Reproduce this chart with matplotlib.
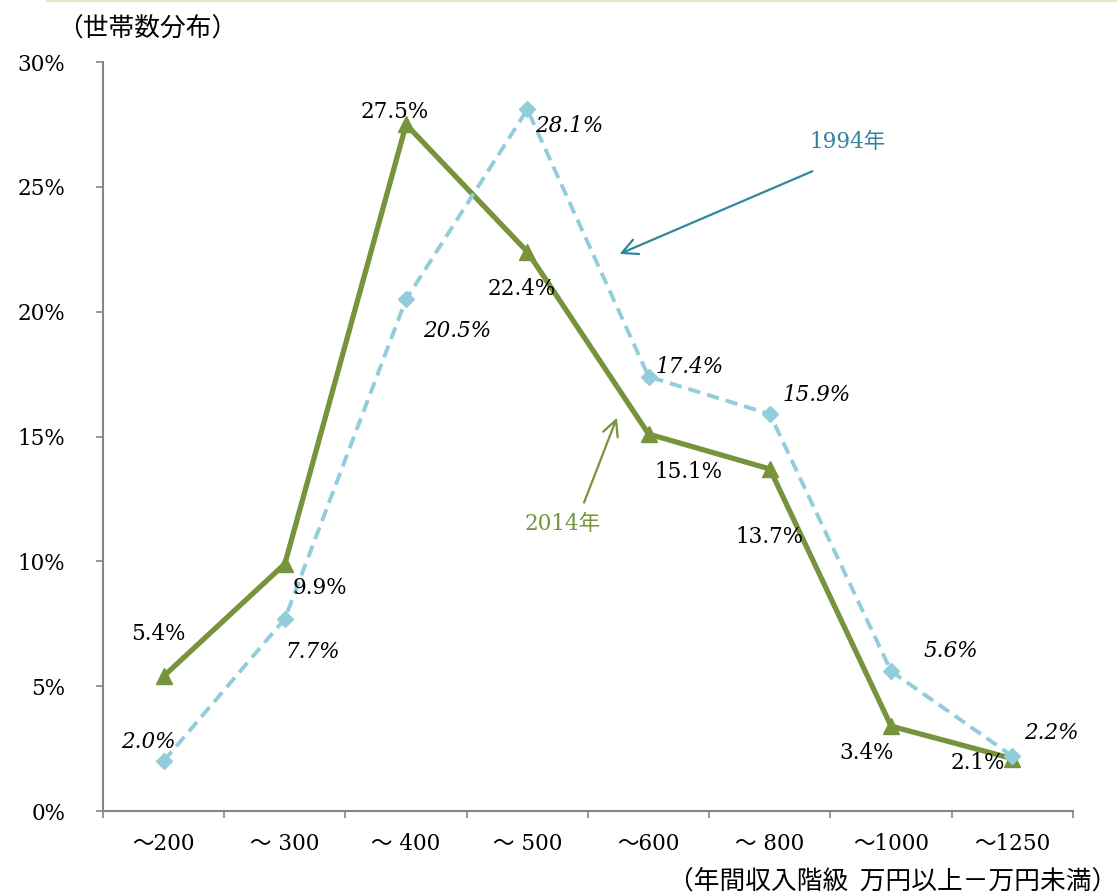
import numpy as np
import matplotlib
matplotlib.use("Agg")
import matplotlib.pyplot as plt
from matplotlib.lines import Line2D

################################
categories = ["～200", "～ 300", "～ 400", "～ 500", "～600", "～ 800", "～1000", "～1250"]
share_2014 = [5.4, 9.9, 27.5, 22.4, 15.1, 13.7, 3.4, 2.1]
share_1994 = [2.0, 7.7, 20.5, 28.1, 17.4, 15.9, 5.6, 2.2]
yticks = [0, 5, 10, 15, 20, 25, 30]
# label offsets from each point, in pixels
off_2014 = [(-5, 42), (35, -24), (-11, 12), (-6, -37), (40, -38), (0, -68), (-24, -27), (-35, -4)]
off_1994 = [(-15, 19), (28, -33), (51, -32), (42, -17), (41, 10), (47, 19), (60, 20), (39, 23)]
################################

GREEN = "#77933C"
BLUE = "#92CDDC"
TEAL = "#31859C"
GREY = "#868686"
NUM = ["DejaVu Serif", "Noto Sans CJK JP"]
JP = ["Noto Sans CJK JP", "DejaVu Sans"]

fig = plt.figure(figsize=(11.17, 8.94), dpi=100)
ax = fig.add_axes([0.0922, 0.0928, 0.9606 - 0.0922, 0.9306 - 0.0928])

x = np.arange(len(categories))
ax.plot(x, share_2014, color=GREEN, lw=3.8, marker="^", ms=11, zorder=3)
ax.plot(x, share_1994, color=BLUE, lw=2.8, dashes=(3.2, 1.8), marker="D", ms=8.5, zorder=4)

for xi, v, (dx, dy) in zip(x, share_2014, off_2014):
    ax.annotate(f"{v:.1f}%", (xi, v), xytext=(dx, dy), textcoords="offset pixels",
                ha="center", va="center", fontsize=15.5, family=NUM, zorder=5)
for xi, v, (dx, dy) in zip(x, share_1994, off_1994):
    ax.annotate(f"{v:.1f}%", (xi, v), xytext=(dx, dy), textcoords="offset pixels",
                ha="center", va="center", fontsize=15.5, family=NUM, style="italic", zorder=5)

# series callouts
ax.annotate("", xy=(3.739, 22.27), xytext=(5.372, 25.67),
            arrowprops=dict(arrowstyle="->", color=TEAL, lw=1.6, mutation_scale=28))
ax.text(5.644, 26.8, "1994年", color=TEAL, fontsize=15.5, family=NUM, ha="center", va="center")
ax.annotate("", xy=(3.747, 15.86), xytext=(3.459, 12.25),
            arrowprops=dict(arrowstyle="->", color=GREEN, lw=1.6, mutation_scale=28))
ax.text(3.294, 11.49, "2014年", color=GREEN, fontsize=15.5, family=NUM, ha="center", va="center")

ax.set_xlim(-0.5, len(categories) - 0.5)
ax.set_ylim(0, 30)
ax.set_yticks(yticks)
ax.set_yticklabels([f"{t}%" for t in yticks], family=NUM, fontsize=15.5)
ax.set_xticks(np.arange(len(categories) + 1) - 0.5)
ax.set_xticklabels([])
ax.set_xticks(x, minor=True)
ax.set_xticklabels(categories, minor=True, family=NUM, fontsize=15.5)
ax.tick_params(axis="y", direction="out", length=5, width=1.2, color=GREY, pad=22)
ax.tick_params(axis="x", which="major", direction="out", length=5, width=1.2, color=GREY)
ax.tick_params(axis="x", which="minor", length=0, pad=16)

for s in ["top", "right"]:
    ax.spines[s].set_visible(False)
for s in ["left", "bottom"]:
    ax.spines[s].set_color(GREY)
    ax.spines[s].set_linewidth(1.5)

fig.text(0.051, 0.967, "（世帯数分布）", family=JP, fontsize=18.5, ha="left", va="center")
fig.text(1.0, 0.0145, "（年間収入階級  万円以上－万円未満）", family=JP, fontsize=18.5,
         ha="right", va="center")
fig.add_artist(Line2D([0.042, 1.0], [0.999, 0.999], transform=fig.transFigure,
                      color="#D7EFC0", lw=1.5))

fig.savefig("out.png", dpi=100)
